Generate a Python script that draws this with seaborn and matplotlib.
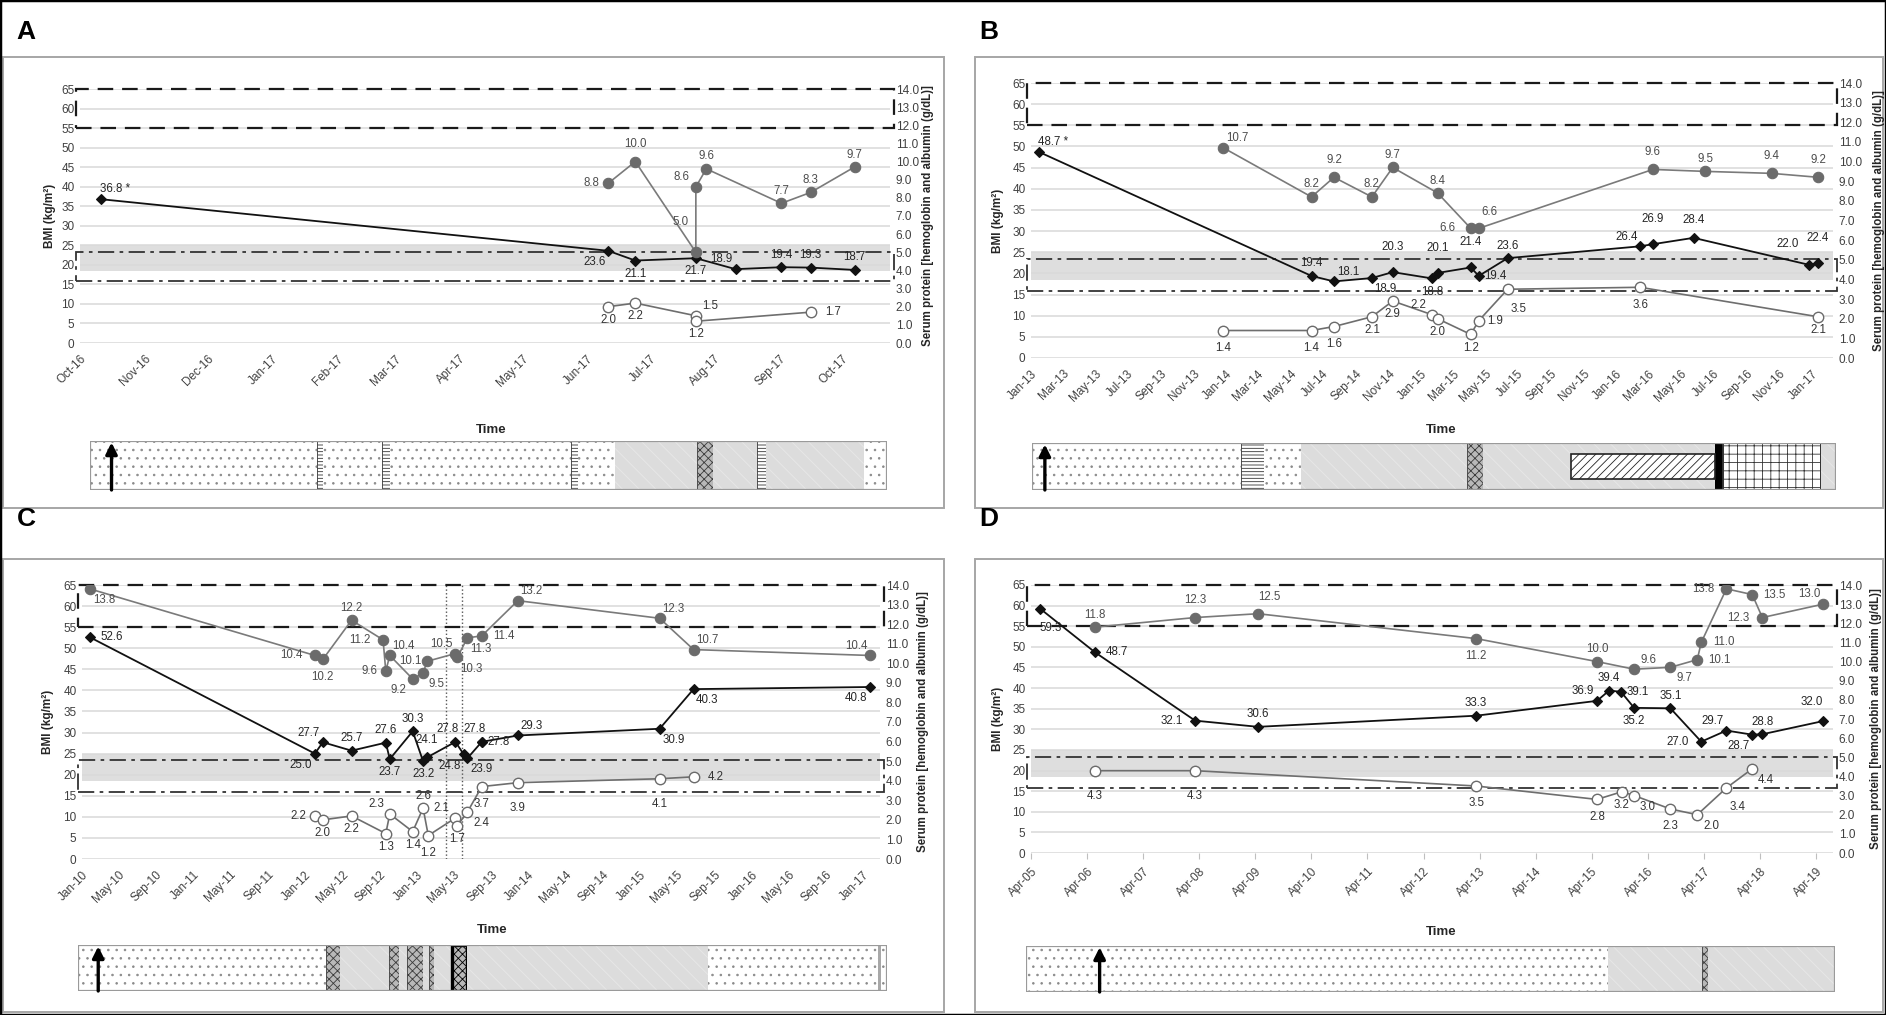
import numpy as np
import pandas as pd
import matplotlib
matplotlib.use("Agg")
import matplotlib.pyplot as plt
import matplotlib.dates as mdates
from matplotlib.patches import Rectangle
from matplotlib.ticker import FormatStrFormatter
import seaborn as sns

sns.set_theme(style="white")
plt.rcParams["font.family"] = ["Liberation Sans", "DejaVu Sans"]
plt.rcParams["hatch.linewidth"] = 0.6

# ======================= DATA =======================
# reference zones (BMI units on left axis)
DASHED_RANGE = (55, 65)      # hemoglobin normal range box
DASHDOT_RANGE = (15.8, 23.4)  # albumin normal range box
SHADED_RANGE = (18.5, 25)     # normal BMI band

# ---- Panel A ----
A_BMI_DATES = ['2016-10-11', '2017-06-11', '2017-06-24', '2017-07-23', '2017-08-11',
               '2017-09-02', '2017-09-16', '2017-10-07']
A_BMI = [36.8, 23.6, 21.1, 21.7, 18.9, 19.4, 19.3, 18.7]
A_BMI_LBL = ['ar', 'bl', 'b', 'b', 'al', 'a', 'a', 'a']
A_HB_DATES = ['2017-06-11', '2017-06-24', '2017-07-23', '2017-07-23', '2017-07-28',
              '2017-09-02', '2017-09-16', '2017-10-07']
A_HB = [8.8, 10.0, 5.0, 8.6, 9.6, 7.7, 8.3, 9.7]
A_HB_LBL = ['l', 'aa', 'ul', 'al', 'a', 'a', 'a', 'a']
A_ALB_DATES = ['2017-06-11', '2017-06-24', '2017-07-23', '2017-07-23', '2017-09-16']
A_ALB = [2.0, 2.2, 1.5, 1.2, 1.7]
A_ALB_LBL = ['b', 'b', 'ar', 'b', 'rr']
A_XLIM = ('2016-10-01', '2017-10-24')
A_TICKS = ('2016-10-01', '2017-10-01', 'MS')
A_STRIP = [(0.000, 0.285, 'dot'), (0.285, 0.292, 'stripe'), (0.292, 0.367, 'dot'),
           (0.367, 0.377, 'stripe'), (0.377, 0.604, 'dot'), (0.604, 0.612, 'stripe'),
           (0.612, 0.659, 'dot'), (0.659, 0.762, 'marble'), (0.762, 0.782, 'check'),
           (0.782, 0.837, 'marble'), (0.837, 0.848, 'stripe'), (0.848, 0.971, 'marble'),
           (0.971, 1.000, 'dot')]
A_ARROW = 0.027

# ---- Panel B ----
B_BMI_DATES = ['2013-01-16', '2014-06-10', '2014-07-22', '2014-10-01', '2014-11-09',
               '2015-01-22', '2015-02-01', '2015-04-04', '2015-04-19', '2015-06-12',
               '2016-02-15', '2016-03-10', '2016-05-25', '2016-12-28', '2017-01-13']
B_BMI = [48.7, 19.4, 18.1, 18.9, 20.3, 18.8, 20.1, 21.4, 19.4, 23.6, 26.4, 26.9, 28.4, 22.0, 22.4]
B_BMI_LBL = ['ar', 'a', 'ar', 'br', 'aaa', 'b', 'aaa', 'aaa', 'r', 'a', 'al', 'aaa', 'aa', 'ual', 'aaa']
B_HB_DATES = ['2013-12-27', '2014-06-10', '2014-07-22', '2014-10-01', '2014-11-09',
              '2015-02-01', '2015-04-04', '2015-04-19', '2016-03-10', '2016-06-16',
              '2016-10-18', '2017-01-13']
B_HB = [10.7, 8.2, 9.2, 8.2, 9.7, 8.4, 6.6, 6.6, 9.6, 9.5, 9.4, 9.2]
B_HB_LBL = ['ar', 'a', 'aa', 'a', 'a', 'a', 'll', 'aar', 'aa', 'a', 'aa', 'aa']
B_ALB_DATES = ['2013-12-27', '2014-06-10', '2014-07-22', '2014-10-01', '2014-11-09',
               '2015-01-22', '2015-02-01', '2015-04-04', '2015-04-19', '2015-06-12',
               '2016-02-15', '2017-01-13']
B_ALB = [1.4, 1.4, 1.6, 2.1, 2.9, 2.2, 2.0, 1.2, 1.9, 3.5, 3.6, 2.1]
B_ALB_LBL = ['bb', 'bb', 'bb', 'b', 'b', 'al', 'b', 'b', 'r', 'bbr', 'bb', 'b']
B_XLIM = ('2013-01-01', '2017-02-10')
B_TICKS = ('2013-01-01', '2017-01-01', '2MS')
B_STRIP = [(0.000, 0.260, 'dot'), (0.260, 0.289, 'stripe'), (0.289, 0.334, 'dot'),
           (0.334, 0.541, 'marble'), (0.541, 0.561, 'check'), (0.561, 0.849, 'marble'),
           (0.849, 0.859, 'black'), (0.859, 0.981, 'grid'), (0.981, 1.000, 'marble')]
B_STRIP_BOXES = [(0.671, 0.849, 0.23, 0.77, 'diag')]
B_ARROW = 0.016

# ---- Panel C ----
C_BMI_DATES = ['2010-01-27', '2012-02-02', '2012-02-28', '2012-06-01', '2012-09-21',
               '2012-10-04', '2012-12-18', '2013-01-21', '2013-02-03', '2013-05-07',
               '2013-06-03', '2013-06-15', '2013-08-01', '2013-08-01', '2013-11-27',
               '2015-03-06', '2015-06-25', '2017-01-22']
C_BMI = [52.6, 25.0, 27.7, 25.7, 27.6, 23.7, 30.3, 23.2, 24.1, 27.8, 24.8, 23.9, 27.8, 27.8,
         29.3, 30.9, 40.3, 40.8]
C_BMI_LBL = ['rr', 'bl', 'al', 'a', 'a', 'b', 'a', 'b', 'aa', 'ale', 'bl', 'br', 'ale', 'r',
             'ar', 'br', 'br', 'bl']
C_HB_DATES = ['2010-01-27', '2012-02-02', '2012-02-28', '2012-06-01', '2012-09-12',
              '2012-09-21', '2012-10-04', '2012-12-18', '2013-01-21', '2013-02-03',
              '2013-05-07', '2013-05-13', '2013-06-15', '2013-08-01', '2013-11-27',
              '2015-03-06', '2015-06-25', '2017-01-22']
C_HB = [13.8, 10.4, 10.2, 12.2, 11.2, 9.6, 10.4, 9.2, 9.5, 10.1, 10.5, 10.3, 11.3, 11.4,
        13.2, 12.3, 10.7, 10.4]
C_HB_LBL = ['br', 'll', 'bb', 'a', 'll', 'l', 'ar', 'bl', 'br', 'l', 'al', 'br', 'br', 'rr',
            'ar', 'ar', 'ar', 'al']
C_ALB_DATES = ['2012-02-02', '2012-02-28', '2012-06-01', '2012-09-21', '2012-10-04',
               '2012-12-18', '2013-01-21', '2013-02-07', '2013-05-07', '2013-05-13',
               '2013-06-15', '2013-08-01', '2013-11-27', '2015-03-06', '2015-06-25']
C_ALB = [2.2, 2.0, 2.2, 1.3, 2.3, 1.4, 2.6, 1.2, 2.1, 1.7, 2.4, 3.7, 3.9, 4.1, 4.2]
C_ALB_LBL = ['l', 'b', 'b', 'b', 'al', 'b', 'a', 'bb', 'al', 'b', 'br', 'bb', 'bbb', 'bbb', 'rr']
C_XLIM = ('2010-01-01', '2017-02-24')
C_TICKS = ('2010-01-01', '2017-01-01', '4MS')
C_VLINES = ['2013-04-05', '2013-05-28']
C_STRIP = [(0.000, 0.307, 'dot'), (0.307, 0.324, 'check'), (0.324, 0.385, 'marble'),
           (0.385, 0.397, 'check'), (0.397, 0.407, 'marble'), (0.407, 0.427, 'check'),
           (0.427, 0.434, 'marble'), (0.434, 0.440, 'check'), (0.440, 0.462, 'marble'),
           (0.462, 0.481, 'checkbold'), (0.481, 0.779, 'marble'), (0.779, 0.989, 'dot'),
           (0.989, 0.993, 'gray'), (0.993, 1.000, 'dot')]
C_ARROW = 0.025

# ---- Panel D ----
D_BMI_DATES = ['2005-05-29', '2006-05-22', '2008-03-05', '2009-04-19', '2013-03-09',
               '2015-05-05', '2015-07-23', '2015-10-08', '2016-01-02', '2016-08-25',
               '2017-03-14', '2017-08-25', '2018-02-09', '2018-04-16', '2019-05-17']
D_BMI = [59.3, 48.7, 32.1, 30.6, 33.3, 36.9, 39.4, 39.1, 35.2, 35.1, 27.0, 29.7, 28.7, 28.8, 32.0]
D_BMI_LBL = ['bbr', 'rr', 'll', 'a', 'a', 'al', 'a', 'r', 'b', 'a', 'll', 'al', 'bl', 'a', 'aal']
D_HB_DATES = ['2006-05-22', '2008-03-05', '2009-04-19', '2013-03-09', '2015-05-05',
              '2016-01-02', '2016-08-25', '2017-02-16', '2017-03-14', '2017-08-25',
              '2018-02-09', '2018-04-16', '2019-05-17']
D_HB = [11.8, 12.3, 12.5, 11.2, 10.0, 9.6, 9.7, 10.1, 11.0, 13.8, 13.5, 12.3, 13.0]
D_HB_LBL = ['a', 'aa', 'aar', 'bb', 'a', 'ar', 'br', 'rr', 'rr', 'll', 'rr', 'll', 'al']
D_ALB_DATES = ['2006-05-22', '2008-03-05', '2013-03-09', '2015-05-05', '2015-10-14',
               '2016-01-02', '2016-08-25', '2017-02-16', '2017-08-25', '2018-02-09']
D_ALB = [4.3, 4.3, 3.5, 2.8, 3.2, 3.0, 2.3, 2.0, 3.4, 4.4]
D_ALB_LBL = ['bbb', 'bbb', 'bb', 'bb', 'b', 'br', 'bb', 'br', 'bbr', 'br']
D_XLIM = ('2005-04-01', '2019-07-20')
D_TICKS = ('2005-04-01', '2019-04-01', '12MS')
D_STRIP = [(0.000, 0.720, 'dot'), (0.720, 0.836, 'marble'), (0.836, 0.843, 'check'),
           (0.843, 1.000, 'marble')]
D_ARROW = 0.091

# ======================= STYLE / LAYOUT =======================
W, H = 1886, 1015
fig = plt.figure(figsize=(W / 100, H / 100), dpi=100)
fig.patch.set_facecolor("white")


def frect(x0, y0, x1, y1):
    return [x0 / W, 1 - y1 / H, (x1 - x0) / W, (y1 - y0) / H]


OFFS = {'a': (0, 9), 'aa': (0, 12.5), 'aaa': (0, 18), 'b': (0, -9.5), 'bb': (0, -12.5),
        'bbb': (0, -18), 'l': (-12, 0), 'll': (-17, 0), 'r': (12, 0), 'rr': (16, 0),
        'al': (-10, 7), 'ar': (10, 7), 'bl': (-10, -8), 'br': (10, -8), 'aal': (-8, 14),
        'aar': (8, 12), 'bbr': (8, -14), 'ul': (-11, 22), 'ual': (-16, 15),
        'ale': (-5.5, 9.5)}

STRIP_STYLES = {
    'dot': dict(facecolor='white', edgecolor='#8a8a8a', hatch='..', lw=0),
    'marble': dict(facecolor='#dcdcdc', edgecolor='#e8e8e8', hatch='\\\\', lw=0),
    'stripe': dict(facecolor='white', edgecolor='#333333', hatch='-----', lw=0.6),
    'check': dict(facecolor='#b8b8b8', edgecolor='#3a3a3a', hatch='xxxx', lw=0.6),
    'checkbold': dict(facecolor='#b8b8b8', edgecolor='black', hatch='xxxx', lw=2.4),
    'grid': dict(facecolor='white', edgecolor='#333333', hatch='++', lw=1.4),
    'black': dict(facecolor='black', edgecolor='black', lw=0),
    'gray': dict(facecolor='#a8a8a8', edgecolor='#a8a8a8', lw=0),
    'diag': dict(facecolor='white', edgecolor='#222222', hatch='////', lw=1.2),
}

TICK_C = '#404040'
FS_TICK = 8.5
FS_LBL = 8.3


def plot_series(ax, dates, vals, lbls, kind, star=False):
    d = pd.to_datetime(pd.Series(dates))
    if kind == 'bmi':
        sty = dict(color='#111111', lw=1.3, marker='D', markersize=5.5,
                   markerfacecolor='#111111', markeredgecolor='#111111', markeredgewidth=0.8)
        tc = '#262626'
    elif kind == 'hb':
        sty = dict(color='#7a7a7a', lw=1.2, marker='o', markersize=7.5,
                   markerfacecolor='#6b6b6b', markeredgecolor='#6b6b6b', markeredgewidth=0.8)
        tc = '#4d4d4d'
    else:
        sty = dict(color='#6e6e6e', lw=1.2, marker='o', markersize=7.5,
                   markerfacecolor='white', markeredgecolor='#6b6b6b', markeredgewidth=1.0)
        tc = '#333333'
    sns.lineplot(x=d.values, y=vals, ax=ax, sort=False, estimator=None, errorbar=None,
                 zorder=5, **sty)
    for i, (x, v, code) in enumerate(zip(d, vals, lbls)):
        txt = f"{v:.1f}" + (" *" if (star and i == 0) else "")
        ax.annotate(txt, (mdates.date2num(x), v), xytext=OFFS[code],
                    textcoords='offset points', ha='center', va='center',
                    fontsize=FS_LBL, color=tc, zorder=8)


def draw_strip(rect, segs, arrow_at, boxes=()):
    sa = fig.add_axes(frect(*rect))
    sa.set_xlim(0, 1)
    sa.set_ylim(0, 1)
    sa.axis('off')
    for a, b, kind in segs:
        sa.add_patch(Rectangle((a, 0), b - a, 1, **STRIP_STYLES[kind]))
    for a, b, y0, y1, kind in boxes:
        sa.add_patch(Rectangle((a, y0), b - a, y1 - y0, **STRIP_STYLES[kind]))
    sa.add_patch(Rectangle((0, 0), 1, 1, fill=False, edgecolor='#9a9a9a', lw=1.6))
    sa.annotate('', xy=(arrow_at, 0.97), xytext=(arrow_at, 0.0),
                arrowprops=dict(arrowstyle='-|>', color='black', lw=2.4,
                                mutation_scale=17, shrinkA=0, shrinkB=0))


def draw_panel(p):
    ax = fig.add_axes(frect(*p['plot']))
    ax2 = ax.twinx()
    # series
    plot_series(ax, *p['bmi'], 'bmi', star=p['star'])
    plot_series(ax2, *p['hb'], 'hb')
    plot_series(ax2, *p['alb'], 'alb')
    # limits
    ax.set_ylim(0, 65)
    ax2.set_ylim(0, 14)
    ax.set_xlim(pd.Timestamp(p['xlim'][0]), pd.Timestamp(p['xlim'][1]))
    # zones
    ax.axhspan(*SHADED_RANGE, facecolor='#dedede', edgecolor='none', zorder=0.3)
    tr = ax.get_yaxis_transform()
    ax.add_patch(Rectangle((-0.005, DASHED_RANGE[0]), 1.01, DASHED_RANGE[1] - DASHED_RANGE[0],
                           transform=tr, fill=False, edgecolor='#1a1a1a', lw=1.6,
                           ls=(0, (7, 4)), clip_on=False, zorder=3))
    ax.add_patch(Rectangle((-0.005, DASHDOT_RANGE[0]), 1.01, DASHDOT_RANGE[1] - DASHDOT_RANGE[0],
                           transform=tr, fill=False, edgecolor='#333333', lw=1.3,
                           ls=(0, (9, 3, 2, 3)), clip_on=False, zorder=3))
    for v in p.get('vlines', []):
        ax.axvline(pd.Timestamp(v), color='#555555', lw=1.0, ls=':', zorder=2)
    # grid / ticks
    ax.set_yticks(np.arange(0, 66, 5))
    ax.set_axisbelow(True)
    ax.yaxis.grid(True, color='#d9d9d9', lw=1.1)
    ax.xaxis.grid(False)
    ax2.grid(False)
    ax2.set_yticks(np.arange(0, 14.5, 1.0))
    ax2.yaxis.set_major_formatter(FormatStrFormatter('%.1f'))
    ticks = pd.date_range(p['ticks'][0], p['ticks'][1], freq=p['ticks'][2])
    ax.set_xticks(mdates.date2num(ticks))
    ax.set_xticklabels([t.strftime('%b-%y') for t in ticks], rotation=45, ha='right',
                       va='top', rotation_mode='anchor', fontsize=FS_TICK, color=TICK_C)
    ax.tick_params(axis='y', length=0, pad=4, labelsize=FS_TICK, labelcolor=TICK_C)
    ax2.tick_params(axis='y', length=0, pad=4, labelsize=FS_TICK, labelcolor=TICK_C)
    if p['xticks_marks']:
        ax.tick_params(axis='x', length=4, width=0.8, color='#bfbfbf', pad=5, bottom=True)
    else:
        ax.tick_params(axis='x', length=0, pad=7)
    for a in (ax, ax2):
        a.set_xlabel('')
        a.set_ylabel('')
        for s in a.spines.values():
            s.set_visible(False)
    # titles
    y0, y1 = p['plot'][1], p['plot'][3]
    yc = 1 - ((y0 + y1) / 2) / H
    fig.text(p['ylab_x'] / W, yc, 'BMI (kg/m²)', rotation=90, ha='center', va='center',
             fontsize=8.5, fontweight='bold', color='#262626')
    fig.text(p['rlab_x'] / W, yc, 'Serum protein [hemoglobin and albumin (g/dL)]',
             rotation=90, ha='center', va='center', fontsize=8.3, fontweight='bold',
             color='#262626')
    fig.text(p['time_xy'][0] / W, 1 - p['time_xy'][1] / H, 'Time', ha='center', va='center',
             fontsize=9.5, fontweight='bold', color='#262626')
    fig.text(p['letter_xy'][0] / W, 1 - p['letter_xy'][1] / H, p['letter'], ha='center',
             va='center', fontsize=19, fontweight='bold', color='black')
    bx = p['box']
    fig.add_artist(Rectangle((bx[0] / W, 1 - bx[3] / H), (bx[2] - bx[0]) / W,
                             (bx[3] - bx[1]) / H, transform=fig.transFigure, fill=False,
                             edgecolor='#a6a6a6', lw=1.4))
    draw_strip(p['strip'], p['segs'], p['arrow'], p.get('boxes', ()))


PANELS = [
    dict(letter='A', plot=(80, 89, 890, 343), strip=(90, 441, 887, 490), box=(3, 57, 944, 508),
         letter_xy=(26, 32), ylab_x=50, rlab_x=928, time_xy=(491, 430), xlim=A_XLIM,
         ticks=A_TICKS, bmi=(A_BMI_DATES, A_BMI, A_BMI_LBL), hb=(A_HB_DATES, A_HB, A_HB_LBL),
         alb=(A_ALB_DATES, A_ALB, A_ALB_LBL), star=True, segs=A_STRIP, arrow=A_ARROW,
         xticks_marks=False),
    dict(letter='B', plot=(1031, 83, 1833, 358), strip=(1032, 443, 1836, 490),
         box=(975, 57, 1883, 508), letter_xy=(989, 32), ylab_x=998, rlab_x=1879,
         time_xy=(1441, 430), xlim=B_XLIM, ticks=B_TICKS, bmi=(B_BMI_DATES, B_BMI, B_BMI_LBL),
         hb=(B_HB_DATES, B_HB, B_HB_LBL), alb=(B_ALB_DATES, B_ALB, B_ALB_LBL), star=True,
         segs=B_STRIP, boxes=B_STRIP_BOXES, arrow=B_ARROW, xticks_marks=False),
    dict(letter='C', plot=(82, 585, 880, 859), strip=(78, 945, 887, 991),
         box=(3, 559, 944, 1012), letter_xy=(26, 519), ylab_x=48, rlab_x=923,
         time_xy=(492, 930), xlim=C_XLIM, ticks=C_TICKS, bmi=(C_BMI_DATES, C_BMI, C_BMI_LBL),
         hb=(C_HB_DATES, C_HB, C_HB_LBL), alb=(C_ALB_DATES, C_ALB, C_ALB_LBL), star=False,
         segs=C_STRIP, arrow=C_ARROW, vlines=C_VLINES, xticks_marks=False),
    dict(letter='D', plot=(1031, 585, 1833, 853), strip=(1026, 946, 1835, 992),
         box=(975, 559, 1883, 1012), letter_xy=(989, 519), ylab_x=998, rlab_x=1876,
         time_xy=(1441, 932), xlim=D_XLIM, ticks=D_TICKS, bmi=(D_BMI_DATES, D_BMI, D_BMI_LBL),
         hb=(D_HB_DATES, D_HB, D_HB_LBL), alb=(D_ALB_DATES, D_ALB, D_ALB_LBL), star=False,
         segs=D_STRIP, arrow=D_ARROW, xticks_marks=True),
]

for p in PANELS:
    draw_panel(p)

fig.add_artist(Rectangle((0, 0), 1, 1, transform=fig.transFigure, fill=False,
                         edgecolor='black', lw=2.5))

fig.savefig("out.png", dpi=100, facecolor="white")
